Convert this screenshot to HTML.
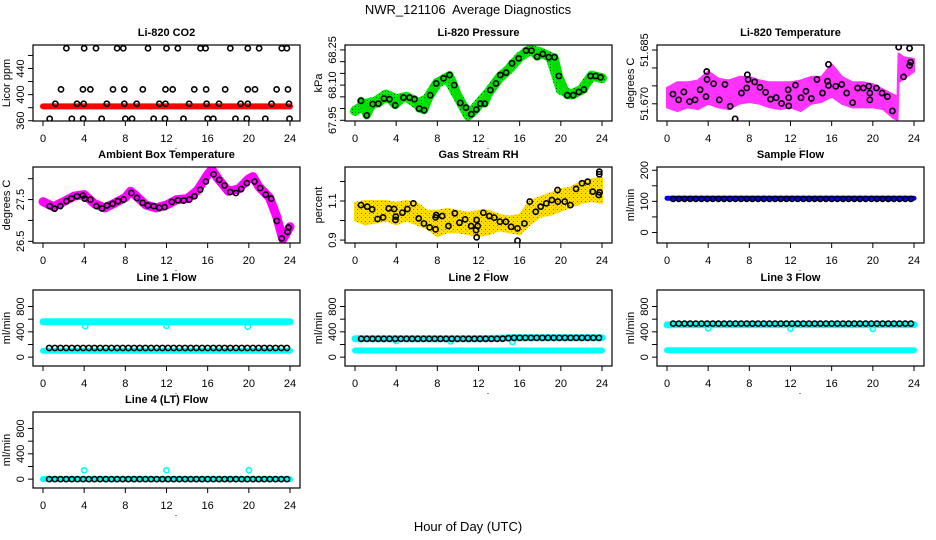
<!DOCTYPE html>
<html><head><meta charset="utf-8">
<style>
html,body{margin:0;padding:0;background:#fff;}
svg{display:block;font-family:"Liberation Sans",sans-serif;}
</style></head>
<body>
<svg id="chart" width="936" height="540" viewBox="0 0 936 540">
<defs>
<pattern id="rhpat" width="4" height="4" patternUnits="userSpaceOnUse">
<rect width="4" height="4" fill="#ffdd00"/><rect x="1" y="1" width="1" height="1" fill="#e03000"/><rect x="3" y="3" width="1" height="1" fill="#ff9900"/>
</pattern>
<pattern id="gpat" width="3" height="3" patternUnits="userSpaceOnUse">
<rect width="3" height="3" fill="#00ee00"/><rect x="1" y="1" width="1" height="1" fill="#006600"/>
</pattern>
</defs>
<text x="468" y="14" text-anchor="middle" font-size="13" xml:space="preserve">NWR_121106  Average Diagnostics</text>
<text x="468" y="531" text-anchor="middle" font-size="13">Hour of Day (UTC)</text>
</svg>
<script>
const blkT = [0.6,1.15,1.7,2.25,2.8,3.35,3.9,4.45,5.0,5.55,6.1,6.65,7.2,7.75,8.3,8.85,9.4,9.95,10.5,11.05,11.6,12.15,12.7,13.25,13.8,14.35,14.9,15.45,16.0,16.55,17.1,17.65,18.2,18.75,19.3,19.85,20.4,20.95,21.5,22.05,22.6,23.15,23.7];
const hourT = [0,1,2,3,4,5,6,7,8,9,10,11,12,13,14,15,16,17,18,19,20,21,22,23,24];
const xTicks = [0,4,8,12,16,20,24];

const co2T = [2.27,4.0,5.15,7.2,7.8,10.2,12.0,13.1,15.3,15.8,18.2,19.9,21.0,23.2,23.7, 1.75,3.88,4.6,6.8,7.9,9.7,11.9,12.6,14.7,15.85,17.7,19.9,20.6,22.7,23.8, 1.2,3.3,3.95,6.2,7.9,9.1,11.3,11.9,14.2,15.9,17.1,19.2,19.9,22.2,23.9, 0.65,2.8,3.9,5.7,8.0,8.65,10.75,11.85,13.65,16.0,16.55,18.7,19.8,21.6,23.95];
const co2V = [471,471,471,471,471,471,471,471,471,471,471,471,471,471,471, 408,408,408,408,408,408,408,408,408,408,408,408,408,408,408, 386,386,386,386,386,386,386,386,386,386,386,386,386,386,386, 363,363,363,363,363,363,363,363,363,363,363,363,363,363,363];
const co2RedT = [0,24];
const co2RedV = [382,382];

const prT = [0.58,1.14,1.72,2.27,2.82,3.34,3.90,4.71,5.29,5.78,6.23,6.72,7.31,7.89,8.60,9.19,9.64,10.23,10.78,11.30,11.79,12.18,12.60,13.15,13.70,14.12,14.68,15.26,15.91,16.62,17.14,17.69,18.25,18.83,19.38,19.81,20.62,21.20,21.75,22.24,22.89,23.38,23.86];
const prV = [68.033,67.971,68.019,68.021,68.043,68.040,68.014,68.047,68.047,68.040,68.000,67.993,68.057,68.107,68.129,68.143,68.100,68.024,68.004,67.976,67.996,68.021,68.021,68.079,68.107,68.143,68.153,68.193,68.214,68.247,68.247,68.221,68.233,68.219,68.219,68.139,68.057,68.057,68.071,68.081,68.139,68.139,68.133];
const prGreen = [67.99,68.02,68.03,68.06,68.04,68.05,68.02,68.04,68.11,68.13,68.05,67.97,68.02,68.07,68.13,68.17,68.22,68.25,68.24,68.22,68.08,68.06,68.08,68.14,68.13];

const tpT = [0.58,1.13,1.64,2.19,2.73,3.22,3.79,3.86,3.89,4.53,5.08,5.63,6.14,6.62,7.23,7.75,7.81,7.88,8.52,9.04,9.58,10.06,10.61,11.13,11.77,11.83,11.83,12.48,13.02,13.50,14.02,14.57,15.11,15.59,15.69,15.69,16.40,16.98,17.46,18.04,18.52,19.07,19.61,19.71,19.71,20.35,20.90,21.41,21.90,22.51,22.99,23.57,23.57,23.67];
const tpV = [51.6727,51.6711,51.6733,51.6706,51.6711,51.6739,51.6720,51.6790,51.6768,51.6756,51.6711,51.6754,51.6693,51.6658,51.6730,51.6744,51.6781,51.6768,51.6761,51.6746,51.6732,51.6713,51.6717,51.6701,51.6739,51.6717,51.6694,51.6752,51.6717,51.6735,51.6715,51.6768,51.6730,51.6763,51.6751,51.6810,51.6749,51.6754,51.6730,51.6703,51.6744,51.6744,51.6749,51.6730,51.6711,51.6744,51.6730,51.6720,51.6680,51.6858,51.6775,51.6855,51.6807,51.6816];
const tpBandT = [0,1,2,3,4,5,6,7,8,9,10,11,12,13,14,15,16,17,18,19,20,21,22,22.4,22.5,23,24];
const tpUp = [51.6745,51.6760,51.6760,51.6765,51.6790,51.6770,51.6765,51.6775,51.6775,51.6765,51.6760,51.6760,51.6760,51.6765,51.6775,51.6775,51.6810,51.6775,51.6760,51.6760,51.6755,51.6740,51.6725,51.6720,51.6840,51.6830,51.6825];
const tpLo = [51.6690,51.6680,51.6690,51.6685,51.6700,51.6690,51.6685,51.6700,51.6705,51.6700,51.6690,51.6685,51.6690,51.6680,51.6700,51.6705,51.6720,51.6700,51.6690,51.6690,51.6690,51.6685,51.6660,51.6655,51.6760,51.6770,51.6790];

const amT = [0.65,1.13,1.68,2.27,2.75,3.30,3.88,4.05,4.60,5.18,5.73,6.21,6.76,7.28,7.83,8.58,9.13,9.68,10.19,10.74,11.29,11.81,12.52,13.11,13.66,14.21,14.72,15.28,15.83,16.57,17.12,17.64,18.19,18.74,19.26,19.81,20.55,21.10,21.65,22.17,22.72,23.20,23.75,23.85];
const amV = [27.343,27.280,27.343,27.461,27.524,27.579,27.594,27.524,27.500,27.343,27.287,27.358,27.398,27.461,27.500,27.657,27.539,27.421,27.358,27.343,27.303,27.319,27.445,27.484,27.476,27.500,27.579,27.736,27.933,28.106,27.972,27.839,27.681,27.657,27.752,27.894,27.933,27.776,27.618,27.524,26.988,26.571,26.728,26.831];
const amMagT = [0,1,2,3,4,5,6,7,8,8.5,9,10,11,12,13,14,15,16,16.4,17,18,19,20,20.4,21,22,22.7,23.3,24];
const amMagV = [27.45,27.33,27.45,27.58,27.62,27.40,27.30,27.42,27.55,27.70,27.60,27.37,27.30,27.37,27.50,27.52,27.72,28.10,28.22,28.00,27.70,27.75,28.00,28.05,27.80,27.55,27.10,26.55,26.85];

const rhT = [0.58,1.19,1.67,2.19,2.73,3.28,3.80,3.93,3.96,4.60,5.09,5.67,6.19,6.70,7.25,7.83,7.83,7.89,8.47,9.08,9.70,10.15,10.70,11.28,11.76,11.82,11.82,11.92,12.47,13.05,13.53,14.08,14.66,15.17,15.79,15.79,16.46,16.98,17.56,18.04,18.59,19.13,19.68,19.71,20.38,20.93,21.48,22.06,22.61,23.10,23.68,23.74,23.74,23.77];
const rhV = [1.079,1.071,1.057,1.008,1.016,1.062,1.059,1.003,1.020,1.040,1.059,1.088,1.011,0.985,0.965,0.955,1.016,1.028,1.023,0.972,1.037,0.989,1.006,0.972,0.951,1.003,0.914,0.972,1.040,1.023,1.015,0.994,0.994,0.968,0.960,0.897,0.985,1.097,1.045,1.071,1.088,1.105,1.156,1.097,1.097,1.079,1.162,1.191,1.199,1.148,1.131,1.250,1.237,1.144];
const rhUp = [1.09,1.10,1.10,1.10,1.09,1.10,1.09,1.05,1.05,1.06,1.05,1.04,1.05,1.05,1.03,1.02,1.03,1.10,1.12,1.14,1.16,1.17,1.20,1.21,1.22];
const rhLo = [1.00,0.98,0.99,1.00,0.98,1.00,0.98,0.96,0.92,0.94,0.94,0.93,0.92,0.93,0.95,0.94,0.93,0.98,1.02,1.03,1.05,1.07,1.09,1.10,1.09];

const sfBlue = [110,110,110,110,110,110,110,110,110,110,110,110,110,110,110,110,110,110,110,110,110,110,110,110,110];
const sfBlk = [108,108,108,108,108,108,108,108,108,108,108,108,108,108,108,108,108,108,108,108,108,108,108,108,108,108,108,108,108,108,108,108,108,108,108,108,108,108,108,108,108,108,108];

const l1Blk = [145,145,145,145,145,145,145,145,145,145,145,145,145,145,145,145,145,145,145,145,145,145,145,145,145,145,145,145,145,145,145,145,145,145,145,145,145,145,145,145,145,145,145];
const l1CyanHi = [560,560,560,560,560,560,560,560,560,560,560,560,560,560,560,560,560,560,560,560,560,560,560,560,560];
const l1CyanLo = [100,100,100,100,100,100,100,100,100,100,100,100,100,100,100,100,100,100,100,100,100,100,100,100,100];
const l1DipT = [4.1,12.0,19.9];
const l1DipV = [490,495,480];
const l2Blk = [290,290,290,290,290,290,290,290,290,290,290,290,290,290,290,290,290,290,290,290,290,290,290,290,290,292,300,305,305,305,305,305,305,305,305,305,305,305,305,305,305,305,305];
const l2CyanHi = [292,290,290,290,290,290,290,290,290,290,292,292,292,294,300,305,307,307,307,307,307,307,307,307,307];
const l2CyanLo = [105,105,105,105,105,105,105,105,105,105,105,105,105,105,105,105,105,105,105,105,105,105,105,105,105];
const l2DipT = [4.0,9.3,15.3];
const l2DipV = [255,250,240];
const l3Blk = [530,530,530,530,530,530,530,530,530,530,530,530,530,530,530,530,530,530,530,530,530,530,530,530,530,530,530,530,530,530,530,530,530,530,530,530,530,530,530,530,530,530,530];
const l3CyanHi = [510,515,515,515,515,515,515,515,515,515,515,515,515,515,515,515,515,515,515,515,515,515,515,515,515];
const l3CyanLo = [110,110,110,110,110,110,110,110,110,110,110,110,110,110,110,110,110,110,110,110,110,110,110,110,110];
const l3DipT = [4.0,12.0,20.0];
const l3DipV = [455,450,445];
const l4Blk = [0,0,0,0,0,0,0,0,0,0,0,0,0,0,0,0,0,0,0,0,0,0,0,0,0,0,0,0,0,0,0,0,0,0,0,0,0,0,0,0,0,0,0];
const l4Cyan = [0,0,0,0,0,0,0,0,0,0,0,0,0,0,0,0,0,0,0,0,0,0,0,0,0];
const l4SpikeT = [4.0,12.0,20.0];
const l4SpikeV = [140,140,140];

const NS = 'http://www.w3.org/2000/svg';
const svg = document.getElementById('chart');
function mk(tag, attrs, parent){ const e=document.createElementNS(NS,tag); for(const k in attrs) e.setAttribute(k,attrs[k]); (parent||svg).appendChild(e); return e; }

const colL = [33,345,657], rowT = [45,167,290,412], W = 267, H = 76;

function panel(cfg){
  const L = colL[cfg.col], T = rowT[cfg.row];
  const g = mk('g',{});
  
  
  const xs = h => L + 10 + h*(247/24);
  const ys = v => T + H - (v - cfg.ylim[0])/(cfg.ylim[1]-cfg.ylim[0])*H;
  const clip = mk('clipPath',{id:'c'+cfg.name},g);
  mk('rect',{x:L,y:T,width:W,height:H},clip);
  const plot = mk('g',{'clip-path':'url(#c'+cfg.name+')'},g);
  
  
  cfg.draw(plot, xs, ys);
  const box = mk('rect',{x:L,y:T,width:W,height:H,fill:'none',stroke:'#000','stroke-width':1.2},g);
  
  
  const t = mk('text',{x:L+W/2,y:T-9,'text-anchor':'middle','font-size':11,'font-weight':'bold'},g);
  t.textContent = cfg.title;
  
  
  const xa = mk('g',{},g);
  
  
  mk('line',{x1:xs(0),x2:xs(24),y1:T+H,y2:T+H,stroke:'#000'},xa);
  xTicks.forEach(v=>{
    mk('line',{x1:xs(v),x2:xs(v),y1:T+H,y2:T+H+5,stroke:'#000'},xa);
    const tl = mk('text',{x:xs(v),y:T+H+21,'text-anchor':'middle','font-size':11},xa);
    tl.textContent = v;
    
    
  });
  mk('text',{x:L+143,y:T+H+28,'text-anchor':'middle','font-size':9},xa).textContent='.';
  const ya = mk('g',{},g);
  
  
  const yt = cfg.yticks;
  mk('line',{x1:L,x2:L,y1:ys(yt[0]),y2:ys(yt[yt.length-1]),stroke:'#000'},ya);
  yt.forEach((v,i)=>{
    mk('line',{x1:L-5,x2:L,y1:ys(v),y2:ys(v),stroke:'#000'},ya);
    const lab = cfg.ylabels[i];
    if(lab!==''){
      const tl = mk('text',{x:0,y:0,'text-anchor':'middle','font-size':11,transform:'translate('+(L-9)+','+ys(v)+') rotate(-90)'},ya);
      tl.textContent = lab;
      
      
    }
  });
  const yl = mk('text',{x:0,y:0,'text-anchor':'middle','font-size':11,transform:'translate('+(L-23)+','+(T+H/2)+') rotate(-90)'},ya);
  yl.textContent = cfg.ylab;
  
  
}

function line(p, xs, ys, T, V, color, w, name){
  const d = T.map((t,i)=>(i?'L':'M')+xs(t).toFixed(1)+','+ys(V[i]).toFixed(1)).join('');
  const e = mk('path',{d:d,fill:'none',stroke:color,'stroke-width':w,'stroke-linecap':'round','stroke-linejoin':'round'},p);
  
  
}
function band(p, xs, ys, T, U, Lo, fill, name){
  let d = T.map((t,i)=>(i?'L':'M')+xs(t).toFixed(1)+','+ys(U[i]).toFixed(1)).join('');
  for(let i=T.length-1;i>=0;i--) d += 'L'+xs(T[i]).toFixed(1)+','+ys(Lo[i]).toFixed(1);
  const e = mk('path',{d:d+'Z',fill:fill,stroke:fill,'stroke-width':2,'stroke-linejoin':'round'},p);
  
  
}
function pts(p, xs, ys, T, V, color, name){
  T.forEach((t,i)=>{
    const c = mk('circle',{cx:xs(t),cy:ys(V[i]),r:2.6,fill:'none',stroke:color,'stroke-width':1.6},p);
    
    
  });
}

const flowTicks=[0,200,400,600,800], flowLabs=['0','','400','','800'], flowLim=[-140,1061];

panel({name:'co2-panel',title:'Li-820 CO2',col:0,row:0,ylim:[359.6,476],yticks:[360,380,400,420,440,460],ylabels:['360','','400','','440',''],ylab:'Licor ppm',
  draw:(p,xs,ys)=>{ line(p,xs,ys,co2RedT,co2RedV,'#ff0000',6,'co2-raw-series'); pts(p,xs,ys,co2T,co2V,'#000','co2-avg-point'); }});
panel({name:'pressure-panel',title:'Li-820 Pressure',col:1,row:0,ylim:[67.947,68.271],yticks:[67.95,68.0,68.05,68.10,68.15,68.20,68.25],ylabels:['67.95','','','68.10','','','68.25'],ylab:'kPa',
  draw:(p,xs,ys)=>{ line(p,xs,ys,hourT,prGreen,'url(#gpat)',10,'pressure-raw-series'); line(p,xs,ys,prT,prV,'#00dd00',8,'pressure-raw-series-2'); pts(p,xs,ys,prT,prV,'#000','pressure-avg-point'); }});
panel({name:'temperature-panel',title:'Li-820 Temperature',col:2,row:0,ylim:[51.6652,51.6864],yticks:[51.670,51.675,51.680,51.685],ylabels:['51.670','','','51.685'],ylab:'degrees C',
  draw:(p,xs,ys)=>{ band(p,xs,ys,tpBandT,tpUp,tpLo,'#ff33ff','temperature-raw-band'); pts(p,xs,ys,tpT,tpV,'#ff00ff','temperature-raw-point'); pts(p,xs,ys,tpT,tpV,'#000','temperature-avg-point'); }});
panel({name:'ambient-panel',title:'Ambient Box Temperature',col:0,row:1,ylim:[26.46,28.28],yticks:[26.5,27,27.5,28],ylabels:['26.5','','27.5',''],ylab:'degrees C',
  draw:(p,xs,ys)=>{ line(p,xs,ys,amMagT,amMagV,'#ff00ff',9,'ambient-raw-series'); pts(p,xs,ys,amT,amV,'#000','ambient-avg-point'); }});
panel({name:'rh-panel',title:'Gas Stream RH',col:1,row:1,ylim:[0.885,1.274],yticks:[0.9,1.0,1.1,1.2],ylabels:['0.9','','1.1',''],ylab:'percent',
  draw:(p,xs,ys)=>{ band(p,xs,ys,hourT,rhUp,rhLo,'url(#rhpat)','rh-raw-band'); pts(p,xs,ys,rhT,rhV,'#000','rh-avg-point'); }});
panel({name:'sample-flow-panel',title:'Sample Flow',col:2,row:1,ylim:[-33.8,210.4],yticks:[0,50,100,150,200],ylabels:['0','','100','','200'],ylab:'ml/min',
  draw:(p,xs,ys)=>{ line(p,xs,ys,hourT,sfBlue,'#0000ff',5,'sample-flow-raw'); pts(p,xs,ys,blkT,sfBlk,'#000','sample-flow-avg-point'); }});
panel({name:'line1-panel',title:'Line 1 Flow',col:0,row:2,ylim:flowLim,yticks:flowTicks,ylabels:flowLabs,ylab:'ml/min',
  draw:(p,xs,ys)=>{ line(p,xs,ys,hourT,l1CyanHi,'#00ffff',7,'line1-raw-high'); pts(p,xs,ys,l1DipT,l1DipV,'#00ffff','line1-dip'); line(p,xs,ys,hourT,l1CyanLo,'#00ffff',6,'line1-raw-low'); pts(p,xs,ys,blkT,l1Blk,'#000','line1-avg-point'); }});
panel({name:'line2-panel',title:'Line 2 Flow',col:1,row:2,ylim:flowLim,yticks:flowTicks,ylabels:flowLabs,ylab:'ml/min',
  draw:(p,xs,ys)=>{ line(p,xs,ys,hourT,l2CyanHi,'#00ffff',7,'line2-raw-high'); pts(p,xs,ys,l2DipT,l2DipV,'#00ffff','line2-dip'); line(p,xs,ys,hourT,l2CyanLo,'#00ffff',6,'line2-raw-low'); pts(p,xs,ys,blkT,l2Blk,'#000','line2-avg-point'); }});
panel({name:'line3-panel',title:'Line 3 Flow',col:2,row:2,ylim:flowLim,yticks:flowTicks,ylabels:flowLabs,ylab:'ml/min',
  draw:(p,xs,ys)=>{ line(p,xs,ys,hourT,l3CyanHi,'#00ffff',7,'line3-raw-high'); pts(p,xs,ys,l3DipT,l3DipV,'#00ffff','line3-dip'); line(p,xs,ys,hourT,l3CyanLo,'#00ffff',6,'line3-raw-low'); pts(p,xs,ys,blkT,l3Blk,'#000','line3-avg-point'); }});
panel({name:'line4-panel',title:'Line 4 (LT) Flow',col:0,row:3,ylim:flowLim,yticks:flowTicks,ylabels:flowLabs,ylab:'ml/min',
  draw:(p,xs,ys)=>{ line(p,xs,ys,hourT,l4Cyan,'#00ffff',6,'line4-raw'); pts(p,xs,ys,l4SpikeT,l4SpikeV,'#00ffff','line4-spike'); pts(p,xs,ys,blkT,l4Blk,'#000','line4-avg-point'); }});
</script>
</body></html>
